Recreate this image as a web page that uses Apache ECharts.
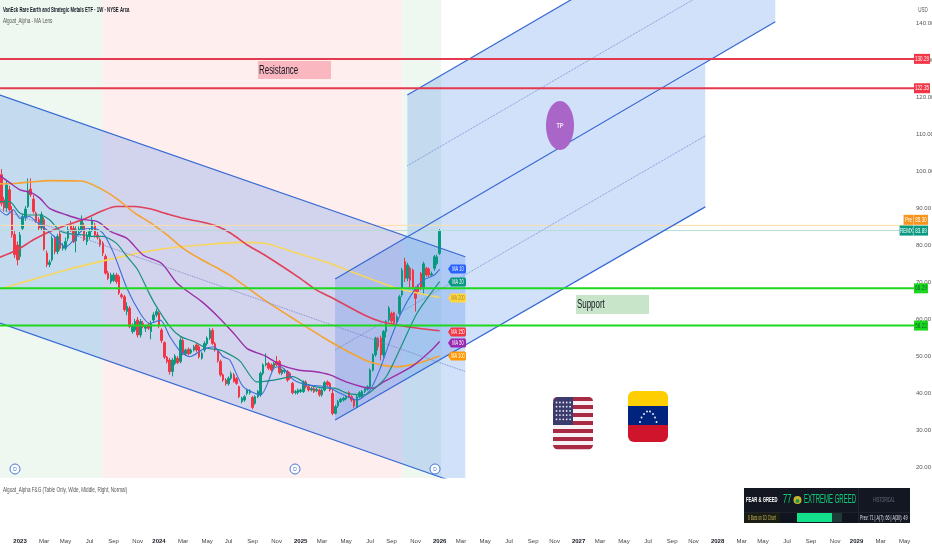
<!DOCTYPE html>
<html><head><meta charset="utf-8">
<style>html,body{margin:0;padding:0;background:#fff}#c{width:932px;height:550px}</style>
<script src="https://cdn.jsdelivr.net/npm/echarts@6/dist/echarts.min.js"></script>
</head><body><div id="c"></div>
<script>
const candleOpen=[
99,92.2,90,94.9,89.5,82.8,80,76.9,84.5,87.3,
90.4,95.1,92.4,88.6,86.8,84.6,86.8,77.8,74.7,76,
81.8,78.2,83,79.1,79.1,81.8,85.4,84.5,81.1,83.9,
84.1,85.3,80.9,82.3,84.1,85.4,82.7,81.4,80.5,76.9,
72.4,70.1,70.4,71.9,71.5,66.5,66,62,62.9,56.6,
57,59.7,55.7,58.8,57.5,58.4,56.6,59.7,61.1,61.5,
57,53.6,49.7,48.9,45.8,48,49.4,48.5,54.2,50.6,
51.8,50.9,51.6,53,52.5,49.4,51.6,53.3,54.8,56.9,
53.3,51.2,48.5,44.9,43.5,42.5,44,44.9,43.9,41.7,
37.7,38.1,39.9,40.1,38.8,37.2,39,39.5,45.3,47.6,
48,47.6,47.1,48.5,48.5,45.3,45.8,45.8,45.3,42.6,
40.1,40.1,40.4,40.4,43,41.7,40.8,41.2,40.6,40.8,
39.5,40.8,43,42.6,39.9,34.5,36.5,37.7,38.1,38.4,
40.1,39,38.1,36.3,39,39,40.4,41,41.7,46.2,
50.3,54.8,54.8,50.3,56.6,59.7,61.5,61.7,59.3,61.5,
66.5,75.5,71,73.7,73.2,68.3,68.9,72.3,68.6,73.7,
73.5,71.9,73.7,75,77.75];
const candleClose=[
91.3,90,96.2,89.5,82.8,77.4,76,82.7,87.7,89.7,
94.7,93.6,89.1,86.4,84.6,88.2,78.9,74.7,75.3,81.8,
78.2,82.3,79.1,79.8,80.9,84.1,84.1,80.9,84.1,84.3,
86.8,81.4,82.7,83.6,86.6,82.7,82.1,80,77.8,72.4,
71,71.9,71.9,70.1,67,66,62.5,63.4,58,58,
59.3,55.7,59.3,58,58,57.5,58.8,61.1,62,58.1,
54.2,49.7,48.5,45.8,48.9,50,48.2,54.3,50.7,51.6,
50.6,51.6,52.5,51.6,49.8,50.7,53.4,54.8,56.9,53.4,
51.6,48.7,44.9,43.5,42.5,44,45.2,43.1,42.6,39,
38.6,39,40.8,40.6,36.1,39,40.4,45.3,47.6,48,
46.7,46.2,48,47.6,45.5,46.2,46.2,43.5,44,40.1,
40.4,40.8,40.8,43,41.7,40.8,41.2,40.4,41,39.5,
40.8,42.8,42.2,40.8,34.5,36.3,37.7,38.3,38.6,39,
39,38.1,36.5,39,40.1,40.4,41.2,41.7,46.2,50.3,
54.8,52.5,50.3,56.6,59.3,62.9,59.5,59,60.6,66,
73.2,71,74.6,70.5,68.3,65.6,67.4,68.3,74.9,71.9,
71.9,72.2,76.8,76.8,83.89];
const candleLow=[
90.5,89,89,89,82,76.5,74.5,76,84,86.5,
90,93,88.5,86,84,84,78.5,74,74,75.5,
77.5,77.5,78.5,78.5,78.5,81,83.5,80.5,78,83,
83.5,81,80,81.5,83.5,82,81.5,79.5,77,72,
70.5,69.5,70,69.5,66.5,65.5,62,61,57.5,56,
56.5,55,55,57.5,56.5,57,54.5,59,60.5,57.5,
53.5,49.2,48,45,44.5,47.5,47.8,48,50.2,50,
50.2,50.5,51.2,51,49.3,49,51,52.8,54.3,53,
51.2,48.2,44.4,43,42,42,43.5,42.8,42.2,38.6,
37.2,37.6,39.4,39.6,35.6,36.8,38.6,39,44.8,47.2,
46.2,45.8,46.6,47.2,45,44.8,45.3,43,43.6,39.6,
39.6,39.6,40,40,41.2,40.4,40.4,40,40.2,39,
39,40.4,41.8,40.4,34,34.2,36,37.3,37.7,38,
38.6,37.6,36,35.9,38.6,38.6,40,40.6,41.3,45.8,
49.8,51.5,48.8,49.5,55,59.2,59,58.5,58.7,61,
66,70,70.2,68,68,62,66.8,67.8,66.5,71.4,
71.4,71.4,73,74.5,77.3];
const candleHigh=[
100.5,93,97.5,96,90.5,84,81,83.5,88.5,90.5,
98,98,93.5,89,87.5,89,87.5,78.5,76,82.5,
82.5,83,84,80.5,82,85,86.5,85.5,85,85,
88,86,83.5,84.5,87.5,86,83.5,82,81,77.5,
73,72.5,72.5,72.5,72,67,66.5,64.5,63.5,58.8,
60,60.5,60,59.5,58.5,59,59.5,61.8,62.8,62,
57.5,54,50,49.5,49.5,50.5,50,55,54.8,52,
52.3,52,53,53.5,53,51.2,54,55.3,57.6,57.5,
53.8,51.6,49,45.3,44,44.5,45.8,45.4,44.3,42,
39,39.4,41.2,41,39.2,39.4,40.8,45.8,48,50.7,
48.4,48,48.4,50,48.9,46.6,46.6,46.2,45.7,43,
40.8,41.2,41.2,43.4,43.4,42.1,41.6,41.6,41.4,41.2,
41.2,43.2,43.4,43,41,36.8,38.1,38.7,39,39.4,
40.5,39.4,38.5,39.5,40.5,40.8,41.6,42.1,46.6,50.7,
55.2,55.2,55.5,57,59.7,63.5,62,62,61,66.5,
73.8,76.5,75.2,74.2,73.6,68.8,69.4,72.7,75.5,74.1,
73.9,72.8,77.3,77.4,84.3];

const ma10Weeks=[-0.5,2,4.5,7,10.5,13,17,20.5,24,26.5,30.5,34.5,38,42,47,52,55.5,59.5,63,67,70.5,75.5,79.5,83,85.5,90.5,97,102,104.5,109.5,114.5,122,125.5,129.5,133,138,142,145.5,149.5,154.5,158,162,164];
const ma10Values=[89.3,88.1,89.5,87.2,87.7,86.3,84.1,81.8,79.4,80.9,84.1,84.5,83.2,77.8,68.3,61.5,58.8,59.7,55.3,51.2,49.8,51.8,52.5,49.8,48.9,41.7,39.5,46.7,47.1,43.5,42.2,41.7,40.4,39,38.1,40.8,47.1,54.3,61.5,67.8,70.5,71.9,73.4];
const ma20Weeks=[-0.5,3,7,11,14.5,18,22,26,31,34.5,38,43,47,51,55,58,63,67,72,77,82,87,89.5,95.5,97,102,109,115,122.5,124.5,129.5,136,139,144,149,155.5,164];
const ma20Values=[91.7,91.7,88.6,88.1,88.1,86.8,83.8,83,82.7,82.3,82.3,80.5,76.9,73.3,67.4,63.4,58,55.3,53.9,52.1,51.6,49.8,48.5,43,43,43.5,44.4,42.2,41.3,41.3,39.9,39.5,40.8,44.4,51.6,61.5,70.1];
const ma50Weeks=[-0.5,3,7,11,14.5,18,24.5,29.5,36,41,47,53,60,66,75,81,87,92,98.5,104.5,111,117,123,129,136,139,143,148,154.5,161,164];
const ma50Values=[98.7,96.9,94.9,94.2,92.6,89.9,88.1,87,86.3,83.6,81.8,77.3,75,69.5,64.7,60.7,56.1,52,50.1,47.6,46.2,45.8,44.9,43,41.5,41.3,43,44.9,47.6,51.6,53.9];
const ma100Weeks=[-0.5,6,12,18,30,37,43,50,56,62,68,75,81,86,98.5,111,123,136,142,148,155.5,164];
const ma100Values=[96.5,96.7,97.1,97.4,97.3,95.3,92.6,88.6,85.9,82.7,79.1,76,73.7,71.6,65.1,59.3,53.9,48.9,47.6,47.1,48,50];
const ma150Weeks=[-0.5,6,12,18,24.5,31,37,43,50,56,62,68,75,81,86,92,98.5,111,118,123,136,142,148,156,164];
const ma150Values=[76.7,78.7,81.4,83.6,85.4,87,89,90.4,90.4,89.7,88.4,87.2,86.2,85,83.1,80,77.3,71.4,67.8,66,61,59.3,58.4,57.5,56.8];
const ma200Weeks=[-0.5,12,25,37,50,62,75,89,99,111,123,136,148,164];
const ma200Values=[68.1,70.7,73.4,75.5,77.6,79.1,80,80.7,80.4,77.7,75,71.4,68.3,65.8];

const priceLevels=[130.29,122.35,68.29,58.22];
const preLevel=85.30, lastLevel=83.89;
const priceTicks=[20,30,40,50,60,70,80,90,100,110,120,130,140];
const tickWeeks=[7,16,24,33,42,51,59,68,77,85,94,103,112,120,129,138,146,155,164,172,181,190,199,207,216,224,233,242,251,259,268,277,285,294,303,312,320,329,338];
const tickLabels=['2023','Mar','May','Jul','Sep','Nov','2024','Mar','May','Jul','Sep','Nov','2025','Mar','May','Jul','Sep','Nov','2026','Mar','May','Jul','Sep','Nov','2027','Mar','May','Jul','Sep','Nov','2028','Mar','May','Jul','Sep','Nov','2029','Mar','May'];
const sessionBands=[[-1,38,'g'],[38,150,'r'],[150,164.6,'g']];
const downChannel=[[-0.5,120.5],[173.6,76.8],[173.6,14.9],[-0.5,58.9]];
const downMid=[[-0.5,89.7],[173.6,45.8]];
const riseChannel=[[124.9,70.8],[263.4,128.9],[263.4,90.3],[124.9,32.7]];
const riseTopEnd=[289.6,140.3];
const riseMid=[[124.9,51.6],[263.4,109.5]];
const upperChannel=[[151.9,120.5],[289.6,178.4],[289.6,140.3],[151.9,82.2]];
const upperMid=[[151.9,101.4],[289.6,159.2]];

const NARROW="'Liberation Sans Narrow','Liberation Sans',sans-serif";
const WEEKS=342,W0=-0.5,W1=WEEKS-0.5,PMIN=17.03,PMAX=146.2;
const BLUE='#3568d4',UP='#089981',DOWN='#f23645';
const GRID={left:0,top:0,width:914,height:478,outerBoundsMode:'none',containLabel:false};
const weekCats=Array.from({length:WEEKS},(_,i)=>String(i));
const CHANNEL_FILL='rgba(50,120,230,0.22)';

function polySeries(pts,fill,z){
  return {type:'custom',silent:true,clip:true,z:z,coordinateSystem:'cartesian2d',data:[0],
    renderItem:(p,api)=>({type:'polygon',shape:{points:pts.map(q=>api.coord(q))},style:{fill:fill,stroke:null}})};
}
function lineS(pts,color,width,type,z){
  return {type:'line',data:pts,showSymbol:false,symbol:'none',silent:true,z:z,animation:false,
    lineStyle:{color:color,width:width,type:type||'solid'}};
}
function ma(w,v,color,width){
  return {type:'line',data:w.map((x,i)=>[x,v[i]]),showSymbol:false,symbol:'none',smooth:0.25,silent:true,z:5,animation:false,
    lineStyle:{color:color,width:width||1.2}};
}
const bandSeries={type:'custom',silent:true,clip:true,z:1,data:sessionBands.map(b=>[b[0],b[1],b[2]==='g'?0:1]),
  renderItem:(p,api)=>{
    const a=api.coord([api.value(0),PMAX]),b=api.coord([api.value(1),PMIN]);
    return {type:'rect',shape:{x:a[0],y:a[1],width:b[0]-a[0],height:b[1]-a[1]},
      style:{fill:api.value(2)===0?'#eef8f1':'#ffeeee'}};
  }};
const candleSeries={type:'candlestick',z:4,xAxisIndex:1,barWidth:2,silent:true,animation:false,
  data:candleOpen.map((o,i)=>[o,candleClose[i],candleLow[i],candleHigh[i]]),
  itemStyle:{color:UP,color0:DOWN,borderColor:UP,borderColor0:DOWN,borderWidth:1}};

function tagSeries(items){
  return {type:'custom',silent:true,clip:false,z:12,data:items.map((t,i)=>[W1,t.p,i]),
    renderItem:(p,api)=>{
      const it=items[api.value(2)],c=api.coord([W1,it.p]);
      const h=10,x=c[0]+(it.dx||0),w=it.w||16;
      return {type:'group',children:[
        {type:'rect',shape:{x:x,y:c[1]-h/2,width:w,height:h},style:{fill:it.bg}},
        {type:'text',x:x+w/2,y:c[1],scaleX:0.6,style:{text:it.t,fill:it.fg||'#fff',fontSize:7.5,fontFamily:NARROW,align:'center',verticalAlign:'middle'}}
      ]};
    }};
}
const tagData=[
 {p:130.29,t:'130.29',bg:'#f23645'},{p:122.35,t:'122.35',bg:'#f23645'},
 {p:68.29,t:'68.29',bg:'#1fd61f',fg:'#063',w:14},{p:58.22,t:'58.22',bg:'#1fd61f',fg:'#063',w:14},
 {p:86.8,t:'85.30',bg:'#f7941d',w:14},{p:86.8,t:'Pre',bg:'#f7941d',w:10,dx:-10.4},
 {p:lastLevel,t:'83.89',bg:'#089981',w:14},{p:lastLevel,t:'REMX',bg:'#089981',w:14,dx:-14.4}];

function T(x,y,text,o){o=o||{};
  return {type:'text',x:x,y:y,scaleX:o.sx||0.6,z:o.z||20,silent:true,
    style:{text:text,fill:o.c||'#131722',fontSize:o.s||8,fontWeight:o.w||'normal',fontFamily:o.f||NARROW,align:o.a||'left',verticalAlign:'middle'}};
}
function R(x,y,w,h,fill,r,z){return {type:'rect',z:z||20,silent:true,shape:{x:x,y:y,width:w,height:h,r:r||0},style:{fill:fill}};}

const g=[];
g.push(T(3,9.5,'VanEck Rare Earth and Strategic Metals ETF · 1W · NYSE Arca',{s:7.5,w:'bold',sx:0.57}));
g.push(T(3,21,'Algoat_Alpha - MA Lens',{s:7.5,c:'#555',sx:0.61}));
g.push(T(3,489.5,'Algoat_Alpha F&G (Table Only, Wide, Middle, Right, Normal)',{s:7.5,c:'#555',sx:0.616}));
g.push(T(923,10,'USD',{s:7.5,c:'#555',a:'center'}));
// annotations
g.push(R(258,61,73,18,'#fbb7bf'));g.push(T(259,70,'Resistance',{s:13,sx:0.61}));
g.push(R(576,295,73,19,'#c9e5c9'));g.push(T(577,304.5,'Support',{s:13,sx:0.61}));
g.push({type:'ellipse',z:20,silent:true,shape:{cx:560,cy:125.5,rx:14,ry:24.5},style:{fill:'#a965c8'}});
g.push(T(560,126,'TP',{s:8,c:'#f3e4fb',a:'center',w:'bold',sx:0.7}));
// MA tags
[['MA 10',269,'#2962ff','#fff'],['MA 20',282,'#089981','#fff'],['MA 200',298,'#ffd740','#a5862a'],['MA 150',332,'#f23645','#fff'],['MA 50',343,'#9c27b0','#fff'],['MA 100',356,'#ff9800','#fff']].forEach(m=>{
  g.push({type:'polygon',z:20,silent:true,shape:{points:[[448,m[1]],[451,m[1]-4.5],[465,m[1]-4.5],[466,m[1]-3.5],[466,m[1]+3.5],[465,m[1]+4.5],[451,m[1]+4.5]]},style:{fill:m[2]}});
  g.push(T(458,m[1],m[0],{s:6.5,c:m[3],a:'center',sx:0.6}));
});
// dividend markers
[15,295,435].forEach(x=>{
  g.push({type:'circle',z:20,silent:true,shape:{cx:x,cy:469,r:5},style:{fill:'#fff',stroke:'#3568d4',lineWidth:0.9}});
  g.push(T(x,469.5,'D',{s:6,c:'#3568d4',a:'center',sx:0.8}));
});
// US flag
const ux=553,uy=397,uw=40,uh=52,sh=uh/13;
for(let i=0;i<13;i++){g.push(R(ux,uy+i*sh,uw,sh+0.2,i%2?'#f7f1f3':'#a92a45',i===0?[6,6,0,0]:i===12?[0,0,6,6]:0));}
g.push(R(ux,uy,20,sh*7,'#3c3b6e',[6,0,0,0]));
for(let r=0;r<5;r++)for(let c=0;c<5;c++){g.push({type:'circle',z:21,silent:true,shape:{cx:556.5+c*3.4,cy:402.5+r*4.2,r:0.9},style:{fill:'#e8e8f4'}});}
// Venezuela flag
const vx=628,vy=391;
g.push(R(vx,vy,40,15,'#ffce00',[6,6,0,0]));g.push(R(vx,vy+15,40,19,'#00247d'));g.push(R(vx,vy+34,40,17,'#cf142b',[0,0,6,6]));
[[640,422],[641.5,417.5],[644,414],[647,411.5],[650,411.5],[653,414],[655,417.5],[656.5,422]].forEach(q=>{
  g.push({type:'circle',z:21,silent:true,shape:{cx:q[0],cy:q[1],r:0.9},style:{fill:'#fff'}});});
// Fear & Greed table
g.push(R(744,488,166,35,'#131722'));
g.push(R(744,512,36,11,'#1a1d14',0,21));g.push(R(780,512,78,11,'#10141f',0,21));g.push(R(858,488,0.6,35,'#2a2e39',0,21));g.push(R(744,512,166,0.6,'#2a2e39',0,21));
g.push(T(746,499.5,'FEAR & GREED',{s:8,c:'#fff',w:'bold',sx:0.52,z:22}));
g.push(T(783,499.5,'77',{s:12,c:'#0fd07a',sx:0.62,z:22}));
g.push({type:'circle',z:22,silent:true,shape:{cx:797.5,cy:500,r:4},style:{fill:'#c9b52c'}});
g.push({type:'circle',z:23,silent:true,shape:{cx:797.5,cy:501,r:2},style:{fill:'#1f9a4a'}});
g.push(T(804,499.5,'EXTREME GREED',{s:12,c:'#0fd07a',sx:0.5,z:22}));
g.push(T(884,500,'HISTORICAL',{s:6.5,c:'#6a7080',a:'center',sx:0.55,z:22}));
g.push(T(748,518,'6 Bars on 1D Chart',{s:6.5,c:'#c9b458',sx:0.5,z:22}));
g.push(R(797,513,45,9,'#1e3a34',0,22));g.push(R(797,513,35,9,'#12e08a',0,23));
g.push(T(860,518,'Prev: 71 | A(7): 66 | A(30): 49',{s:6.5,c:'#e0e3eb',sx:0.56,z:22}));

const option={animation:false,backgroundColor:'#fff',grid:GRID,
  xAxis:[{type:'value',min:W0,max:W1,position:'bottom',splitLine:{show:false},axisLine:{show:false},axisTick:{show:false},
    axisLabel:{customValues:tickWeeks,margin:60,fontFamily:NARROW,fontSize:6,color:'#444',hideOverlap:false,
      formatter:v=>{const i=tickWeeks.indexOf(v),s=i<0?'':tickLabels[i];return /^\d/.test(s)?'{y|'+s+'}':s;},
      rich:{y:{fontFamily:NARROW,fontSize:6,fontWeight:'bold',color:'#131722'}}}},
    {type:'category',data:weekCats,show:false,position:'bottom'}],
  yAxis:{type:'value',min:PMIN,max:PMAX,position:'right',splitLine:{show:false},axisLine:{show:false},axisTick:{show:false},
    axisLabel:{customValues:priceTicks,margin:2,fontFamily:NARROW,fontSize:6,color:'#555',formatter:v=>v.toFixed(2)}},
  graphic:{elements:g},
  series:[
    bandSeries,
    polySeries(downChannel,CHANNEL_FILL,2),
    polySeries(riseChannel,CHANNEL_FILL,2),
    polySeries(upperChannel,CHANNEL_FILL,2),
    candleSeries,
    ma(ma200Weeks,ma200Values,'#f7d65c',1.6),
    ma(ma150Weeks,ma150Values,'#e0405a',1.6),
    ma(ma100Weeks,ma100Values,'#f5a331',1.6),
    ma(ma50Weeks,ma50Values,'#9a2fa8',1.4),
    ma(ma20Weeks,ma20Values,'#17917f',1.2),
    ma(ma10Weeks,ma10Values,'#3a6fd8',1.1),
    lineS([downChannel[0],downChannel[1]],BLUE,1.1,'solid',7),
    lineS([downChannel[3],downChannel[2]],BLUE,1.1,'solid',7),
    lineS(downMid,'#7680c8',0.9,'dotted',7),
    lineS([riseChannel[0],riseTopEnd],BLUE,1.2,'solid',7),
    lineS([riseChannel[3],riseChannel[2]],BLUE,1.2,'solid',7),
    lineS(riseMid,'#6a86d0',0.9,'dotted',7),
    lineS([upperChannel[0],upperChannel[1]],BLUE,1.2,'solid',7),
    lineS(upperMid,'#6a86d0',0.9,'dotted',7),
    lineS([[W0,preLevel],[W1,preLevel]],'#f8dfa8',1,'solid',6),
    lineS([[W0,lastLevel],[W1,lastLevel]],'#b7dcd6',1,'solid',6),
    lineS([[W0,priceLevels[0]],[W1,priceLevels[0]]],'#e53950',2,'solid',8),
    lineS([[W0,priceLevels[1]],[W1,priceLevels[1]]],'#e53950',2,'solid',8),
    lineS([[W0,priceLevels[2]],[W1,priceLevels[2]]],'#1ed81e',2,'solid',8),
    lineS([[W0,priceLevels[3]],[W1,priceLevels[3]]],'#1ed81e',2,'solid',8),
    tagSeries(tagData)
  ]};
echarts.init(document.getElementById('c'),null,{renderer:'canvas'}).setOption(option);
</script></body></html>
